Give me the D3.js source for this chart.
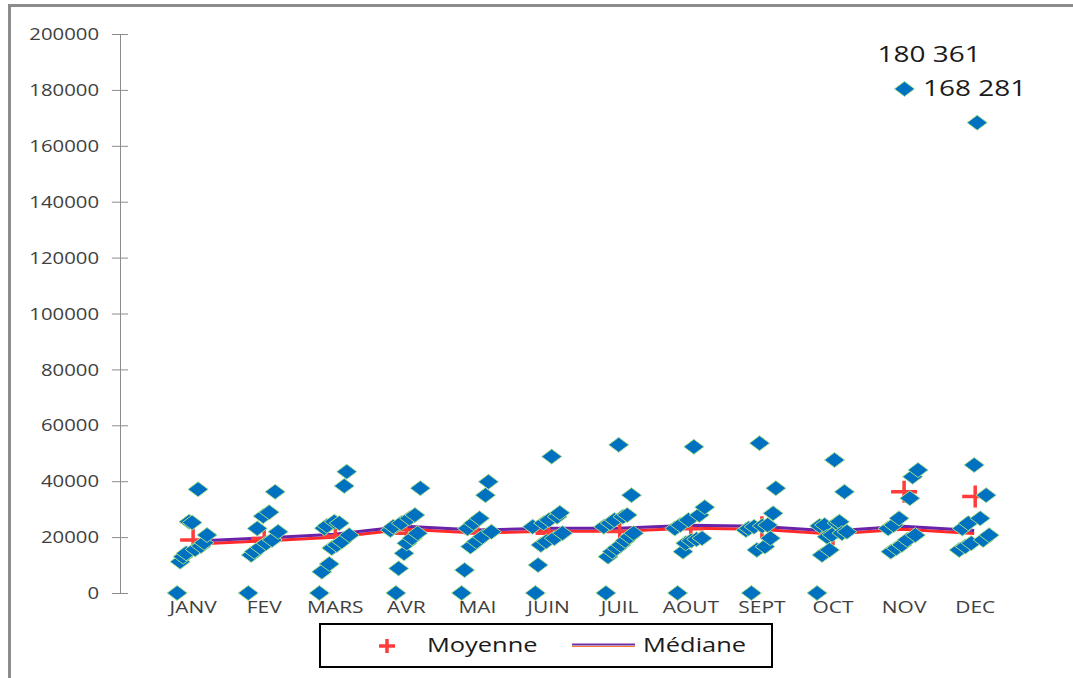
<!DOCTYPE html>
<html>
<head>
<meta charset="utf-8">
<script src="https://cdn.jsdelivr.net/npm/d3@7"></script>
<style>
  body { margin: 0; background: #fff; }
  text { font-family: "Open Sans", "Liberation Sans", sans-serif; }
</style>
</head>
<body>
<svg id="chart" width="1073" height="678"></svg>
<script>
// Month labels on the x axis
const months = ["JANV", "FEV", "MARS", "AVR", "MAI", "JUIN", "JUIL", "AOUT", "SEPT", "OCT", "NOV", "DEC"];
const yTickValues = [0, 20000, 40000, 60000, 80000, 100000, 120000, 140000, 160000, 180000, 200000];

// values per month, listed left to right as they sit in the cloud
const janv = [0, 11200, 13000, 14200, 25500, 25200, 15600, 37100, 16800, 18000, 20750];
const fev  = [0, 13600, 14800, 23100, 16300, 27500, 17800, 28900, 19000, 36200, 21900];
const mars = [0, 7600, 23200, 24000, 10400, 16100, 25500, 17200, 25000, 18400, 38300, 43400, 20700];
const avr  = [22500, 23700, 0, 8800, 25000, 14200, 17800, 26700, 19600, 27900, 21400, 37500];
const mai  = [0, 8200, 23100, 16600, 25000, 18400, 26700, 20100, 35000, 39800, 21900];
const juin = [23700, 0, 10000, 17200, 25000, 18400, 26100, 48800, 19600, 27300, 28700, 21400];
const juil = [23700, 0, 13000, 25000, 14800, 26100, 16000, 53000, 17200, 27300, 18700, 27900, 20100, 35000, 21400];
const aout = [23100, 0, 24300, 14800, 17800, 26100, 18700, 52300, 19200, 27900, 19600, 30700];
const sept = [22500, 23100, 0, 23700, 15400, 53600, 24000, 16600, 24300, 19600, 28500, 37500];
const oct  = [0, 24000, 13600, 24300, 20100, 15400, 20800, 47600, 25000, 25500, 21400, 36200, 21900];
const nov  = [23100, 14800, 24300, 16000, 26700, 17200, 180361, 19000, 33900, 41600, 20700, 44000];
const dec  = [15400, 23100, 16600, 25000, 17800, 45800, 168281, 26700, 19000, 35000, 20700];

const moyenne = [19000, 19500, 20400, 21400, 21500, 21400, 22000, 23000, 23500, 21000, 36200, 34500];
const mediane = [18200, 19300, 20700, 23500, 22200, 22800, 22800, 23900, 23500, 21800, 23500, 22000];

const labelledValues = [180361, 168281];

const byMonth = [janv, fev, mars, avr, mai, juin, juil, aout, sept, oct, nov, dec];

const svg = d3.select("#chart");
const sx = 1.27; // the picture is stretched sideways

const x = d3.scaleLinear().domain([0, 13]).range([121, 1045.3]);
const y = d3.scaleLinear().domain([0, 200000]).range([593, 34]);

// outer frame (left and top edges)
svg.append("path")
    .attr("d", "M9.5,678 V5.5 H1073")
    .attr("fill", "none")
    .attr("stroke", "#8c8c8c")
    .attr("stroke-width", 3);

// y axis
const yAxis = svg.append("g")
    .attr("transform", "translate(120,0)")
    .call(d3.axisLeft(y).tickValues(yTickValues).tickSizeInner(8).tickSizeOuter(0).tickFormat(d3.format("d")));
yAxis.select(".domain").attr("stroke", "#8c8c8c");
yAxis.selectAll(".tick line").attr("stroke", "#8c8c8c").attr("x2", -8).attr("x1", 8);
yAxis.selectAll(".tick text")
    .attr("x", 0)
    .attr("dy", "0.35em")
    .attr("transform", `translate(-21,0) scale(${sx},1)`)
    .attr("fill", "#404040")
    .style("font-size", "16px");

// month labels
svg.append("g").selectAll("text")
    .data(months)
    .enter()
    .append("text")
    .attr("transform", (m, i) => `translate(${x(i + 1) + 1},613) scale(${sx},1)`)
    .attr("text-anchor", "middle")
    .attr("fill", "#404040")
    .style("font-size", "16.5px")
    .text(m => m);

// median line: red band under a purple band
const medianLine = d3.line()
    .x((d, i) => x(i + 1))
    .y(d => y(d));

svg.append("path")
    .datum(mediane)
    .attr("d", medianLine)
    .attr("transform", "translate(0,2)")
    .attr("fill", "none")
    .attr("stroke", "#ff2a2a")
    .attr("stroke-width", 3);

svg.append("path")
    .datum(mediane)
    .attr("d", medianLine)
    .attr("transform", "translate(0,-1)")
    .attr("fill", "none")
    .attr("stroke", "#6a22a8")
    .attr("stroke-width", 3);

// mean crosses
const cross = (w, h) => `M${-w},0H${w}M0,${-h}V${h}`;
svg.append("g").selectAll("path")
    .data(moyenne)
    .enter()
    .append("path")
    .attr("transform", (d, i) => `translate(${x(i + 1) + 1},${y(d)})`)
    .attr("d", cross(13, 11))
    .attr("stroke", "#ff3b3b")
    .attr("stroke-width", 3.5)
    .attr("fill", "none");

// scatter of diamonds, spread sideways around each month
const points = [];
byMonth.forEach((vals, m) => {
    const spread = d3.scaleLinear().domain([0, vals.length - 1]).range([-0.21, 0.21]);
    vals.forEach((v, i) => points.push({ month: m + 1, pos: spread(i), value: v }));
});

const diamond = "M0,-7.5L10,0L0,7.5L-10,0Z";
svg.append("g").selectAll("path")
    .data(points)
    .enter()
    .append("path")
    .attr("transform", p => `translate(${x(p.month + p.pos)},${y(p.value)})`)
    .attr("d", diamond)
    .attr("fill", "#0070c0")
    .attr("stroke", "#a5dc8c")
    .attr("stroke-width", 1);

// labels of the two outliers, anchored near the November point
const nx = x(11), ny = y(labelledValues[0]);
svg.append("text")
    .attr("transform", `translate(${nx + 26},${ny - 27}) scale(${sx},1)`)
    .attr("text-anchor", "middle")
    .attr("fill", "#1a1a1a")
    .style("font-size", "22px")
    .text(d3.format(",")(labelledValues[0]).replace(",", " "));
svg.append("text")
    .attr("transform", `translate(${nx + 20},${ny + 7}) scale(${sx},1)`)
    .attr("fill", "#1a1a1a")
    .style("font-size", "22px")
    .text(d3.format(",")(labelledValues[1]).replace(",", " "));

// legend
const legend = svg.append("g");
legend.append("rect")
    .attr("x", 320).attr("y", 624)
    .attr("width", 452).attr("height", 43)
    .attr("fill", "#fff")
    .attr("stroke", "#000")
    .attr("stroke-width", 2);
legend.append("path")
    .attr("transform", "translate(387,646)")
    .attr("d", cross(8, 7))
    .attr("stroke", "#ff3b3b")
    .attr("stroke-width", 3.5);
legend.append("text")
    .attr("transform", `translate(427,652) scale(${sx},1)`)
    .attr("fill", "#1a1a1a")
    .style("font-size", "20px")
    .text("Moyenne");
legend.append("line")
    .attr("x1", 572).attr("x2", 635).attr("y1", 644.5).attr("y2", 644.5)
    .attr("stroke", "#7030a0").attr("stroke-width", 2);
legend.append("line")
    .attr("x1", 572).attr("x2", 635).attr("y1", 646.5).attr("y2", 646.5)
    .attr("stroke", "#ff7a30").attr("stroke-width", 1);
legend.append("text")
    .attr("transform", `translate(643,652) scale(${sx},1)`)
    .attr("fill", "#1a1a1a")
    .style("font-size", "20px")
    .text("Médiane");
</script>
</body>
</html>
